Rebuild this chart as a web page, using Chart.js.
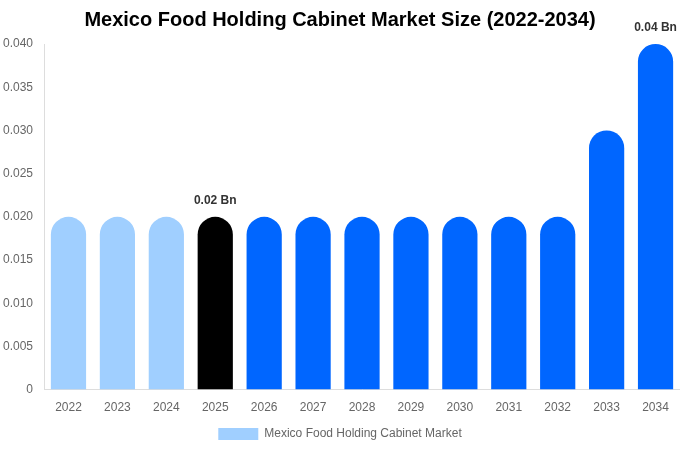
<!DOCTYPE html>
<html>
<head>
<meta charset="utf-8">
<script src="https://cdn.jsdelivr.net/npm/chart.js@4"></script>
<style>
	html, body { margin: 0; padding: 0; background: #fff; }
	#wrap { width: 680px; height: 450px; position: relative; }
</style>
</head>
<body>
<div id="wrap"><canvas id="marketChart"></canvas></div>
<script>
const years = ["2022", "2023", "2024", "2025", "2026", "2027", "2028", "2029", "2030", "2031", "2032", "2033", "2034"];
const marketSize = [0.02, 0.02, 0.02, 0.02, 0.02, 0.02, 0.02, 0.02, 0.02, 0.02, 0.02, 0.03, 0.04];
const barColors = ["#a0cfff", "#a0cfff", "#a0cfff", "#000000", "#0066ff", "#0066ff", "#0066ff", "#0066ff", "#0066ff", "#0066ff", "#0066ff", "#0066ff", "#0066ff"];
const labelledYears = ["2025", "2034"];

Chart.defaults.font.family = "'Liberation Sans', Arial, sans-serif";
Chart.defaults.color = "#666";

// writes "x.xx Bn" above selected bars
const valueLabels = {
	id: "valueLabels",
	afterDatasetsDraw(chart) {
		const ctx = chart.ctx;
		const meta = chart.getDatasetMeta(0);
		ctx.save();
		ctx.font = "bold 12px 'Liberation Sans', Arial, sans-serif";
		ctx.fillStyle = "#333";
		ctx.textAlign = "center";
		ctx.textBaseline = "bottom";
		meta.data.forEach((bar, i) => {
			if (labelledYears.includes(years[i])) {
				ctx.fillText(marketSize[i].toFixed(2) + " Bn", bar.x, bar.y - 10);
			}
		});
		ctx.restore();
	}
};

new Chart(document.getElementById("marketChart"), {
	type: "bar",
	data: {
		labels: years,
		datasets: [
			{
				label: "Mexico Food Holding Cabinet Market",
				data: marketSize,
				backgroundColor: barColors,
				borderRadius: 40
			}
		]
	},
	options: {
		responsive: true,
		maintainAspectRatio: false,
		animation: false,
		plugins: {
			title: {
				display: true,
				text: "Mexico Food Holding Cabinet Market Size (2022-2034)",
				color: "#000",
				font: { size: 20, weight: "bold" },
				padding: { top: 8, bottom: 12 }
			},
			legend: {
				position: "bottom",
				labels: { boxWidth: 40, boxHeight: 12, font: { size: 12 } }
			},
			tooltip: { enabled: false }
		},
		scales: {
			x: {
				grid: { display: false },
				border: { color: "#ddd" },
				ticks: { font: { size: 12 } }
			},
			y: {
				beginAtZero: true,
				max: 0.04,
				grid: { display: false },
				border: { color: "#ddd" },
				ticks: {
					stepSize: 0.005,
					font: { size: 12 },
					callback: (v) => v === 0 ? "0" : v.toFixed(3)
				}
			}
		}
	},
	plugins: [valueLabels]
});
</script>
</body>
</html>
